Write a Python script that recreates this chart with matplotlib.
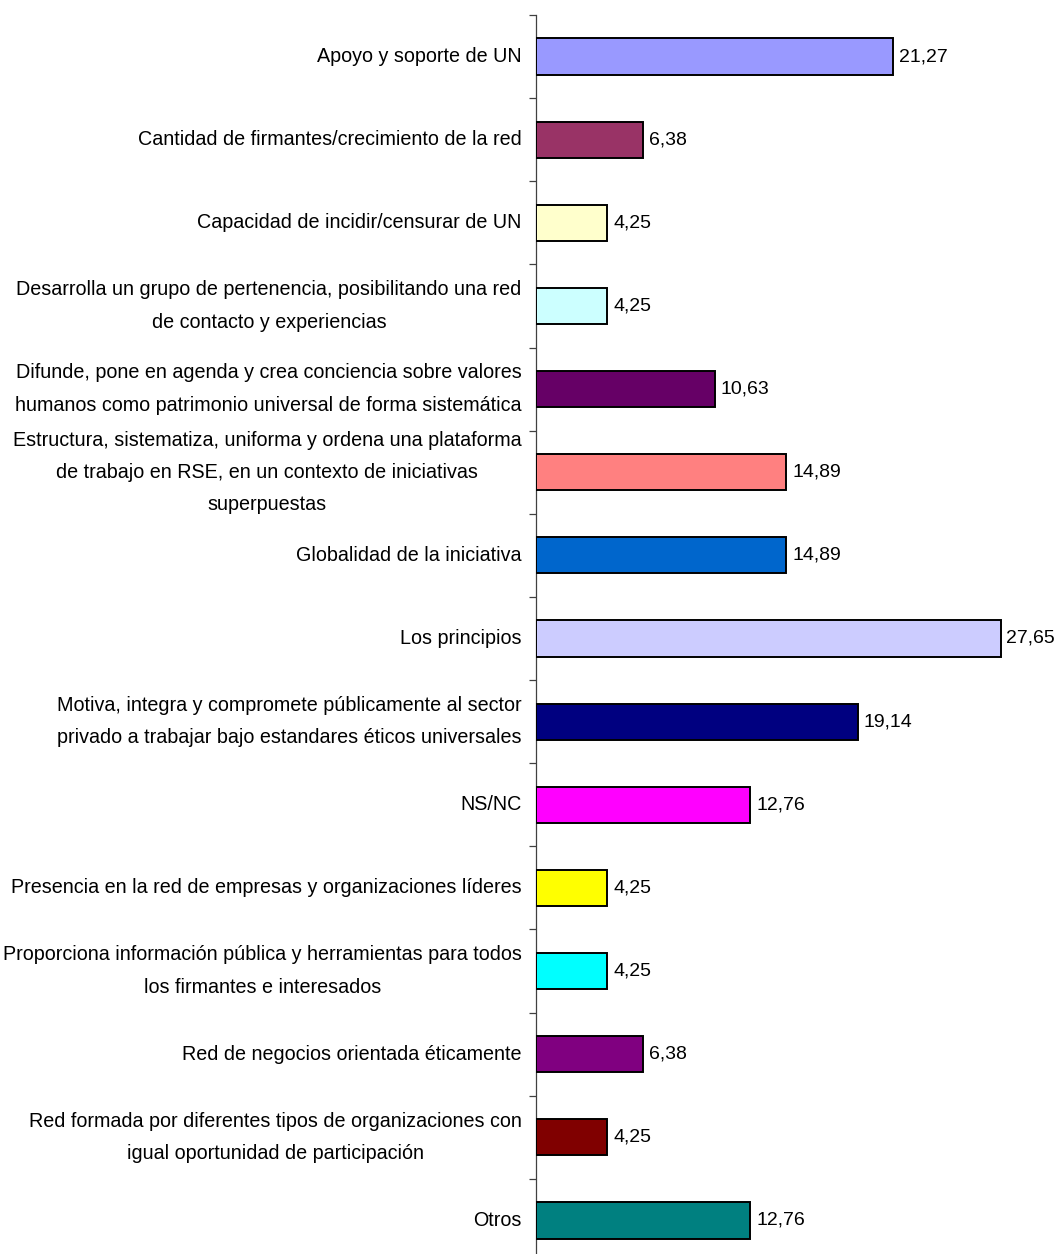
import matplotlib
matplotlib.use('Agg')
import matplotlib.pyplot as plt

plt.rcParams['font.family'] = ['Liberation Sans', 'DejaVu Sans']

# categorias y porcentajes
categorias = [
    'Apoyo y soporte de UN',
    'Cantidad de firmantes/crecimiento de la red',
    'Capacidad de incidir/censurar de UN',
    'Desarrolla un grupo de pertenencia, posibilitando una red\nde contacto y experiencias',
    'Difunde, pone en agenda y crea conciencia sobre valores\nhumanos como patrimonio universal de forma sistemática',
    'Estructura, sistematiza, uniforma y ordena una plataforma\nde trabajo en RSE, en un contexto de iniciativas\nsuperpuestas',
    'Globalidad de la iniciativa',
    'Los principios',
    'Motiva, integra y compromete públicamente al sector\nprivado a trabajar bajo estandares éticos universales',
    'NS/NC',
    'Presencia en la red de empresas y organizaciones líderes',
    'Proporciona información pública y herramientas para todos\nlos firmantes e interesados',
    'Red de negocios orientada éticamente',
    'Red formada por diferentes tipos de organizaciones con\nigual oportunidad de participación',
    'Otros',
]
valores = [21.27, 6.38, 4.25, 4.25, 10.63, 14.89, 14.89, 27.65,
           19.14, 12.76, 4.25, 4.25, 6.38, 4.25, 12.76]
colores = ['#9999FF', '#993366', '#FFFFCC', '#CCFFFF', '#660066',
           '#FF8080', '#0066CC', '#CCCCFF', '#000080', '#FF00FF',
           '#FFFF00', '#00FFFF', '#800080', '#800000', '#008080']

W, H = 1058, 1254
fig = plt.figure(figsize=(W / 100, H / 100), dpi=100)
ax = fig.add_axes([536 / W, 1 - 1262 / H, (W - 536) / W, 1247 / H])

y = list(range(len(categorias)))
ax.barh(y, valores, height=0.435, color=colores, edgecolor='black',
        linewidth=1.4, zorder=3)
ax.set_ylim(len(categorias) - 0.5, -0.5)
ax.set_xlim(0, 522 / 16.8)

for yi, v in zip(y, valores):
    ax.text(v + 0.35, yi, f'{v:.2f}'.replace('.', ','), va='center',
            ha='left', fontsize=14, clip_on=False)

for yi, lab in zip(y, categorias):
    ax.text(-0.85, yi, lab, va='center', ha='right', multialignment='center',
            fontsize=14.2, linespacing=1.88, clip_on=False)

for s in ['top', 'right', 'bottom']:
    ax.spines[s].set_visible(False)
ax.spines['left'].set_color('#404040')
ax.spines['left'].set_linewidth(0.9)
ax.set_xticks([])
ax.set_yticks([i - 0.5 for i in range(len(categorias) + 1)])
ax.set_yticklabels([])
ax.tick_params(axis='y', length=5, width=0.9, color='#404040')

fig.savefig('out.png', dpi=100)
